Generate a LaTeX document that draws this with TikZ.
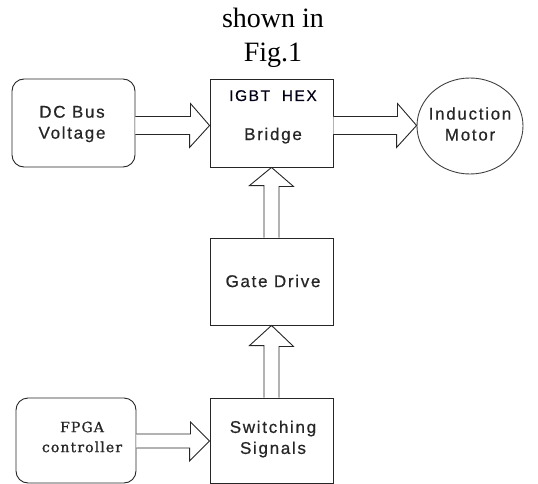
\documentclass[tikz,border=0pt]{standalone}
\usepackage{fontspec}
\setmainfont{Liberation Serif}
\newfontfamily\boxfont[LetterSpace=10, FakeBold=0.6]{Liberation Sans}
\newfontfamily\fpgafont[LetterSpace=8, FakeBold=1.2]{DejaVu Serif}
\usetikzlibrary{calc,shapes.geometric}
\begin{document}
\begin{tikzpicture}[x=1pt,y=-1pt,
  box/.style={draw=black!85, line width=0.9pt, minimum width=123pt, minimum height=88pt, inner sep=0pt},
  rbox/.style={box, rounded corners=12pt},
  lbl/.style={font=\boxfont\fontsize{17}{21}\selectfont, text=black!85, align=center, inner sep=0pt},
  barrow/.style={draw=black!85, line width=0.9pt, fill=white, line join=miter},
  title/.style={font=\fontsize{28}{34}\selectfont, anchor=base, inner sep=0pt}
]
\useasboundingbox (0,0) rectangle (538,484);
\node[title] (t1) at (273,28) {shown in};
\node[title] (t2) at (273,62) {Fig.1};

\node[rbox] (dc) at (73.5,123) {};
\node[lbl] (dct) at (72,124) {DC Bus\\Voltage};

\node[box] (igbt) at (271.5,123) {};
\node[font=\boxfont\fontsize{15.5}{18}\selectfont, text=black!90!blue, anchor=base, inner sep=0pt] (igbtt) at (273,101) {IGBT\ \ HEX};
\node[lbl, anchor=base] (igbtb) at (273,140) {Bridge};

\node[ellipse, draw=black!75, line width=0.9pt, minimum width=106pt, minimum height=96pt, inner sep=0pt] (motor) at (470,126) {};
\node[lbl] (motort) at (470,124) {Induction\\Motor};

\node[box, minimum height=87pt] (gate) at (271.5,281.5) {};
\node[lbl] (gatet) at (273,281) {Gate Drive};

\node[box, minimum height=85pt] (sw) at (271.5,440.5) {};
\node[lbl] (swt) at (273,439) {Switching\\Signals};

\node[rbox, minimum width=120pt, minimum height=85pt] (fpga) at (76,440.5) {};
\node[font=\fpgafont\fontsize{14}{20}\selectfont, text=black!85, align=center, inner sep=0pt] (fpgat) at (82,437) {FPGA\\controller};

% block arrows
\path[barrow] ($(dc.east)+(0,-6.5)$) -- ++(55,0) -- ++(0,-13) -- ($(igbt.west)+(0,2.5)$) -- ++(-20,22) -- ++(0,-13) -- ($(dc.east)+(0,11.5)$);
\path[barrow] ($(igbt.east)+(0,-6.5)$) -- ++(64,0) -- ++(0,-13) -- ($(motor.west)+(0,-0.5)$) -- ++(-20,22) -- ++(0,-13) -- ($(igbt.east)+(0,11.5)$);
\path[barrow] ($(gate.north)+(-7.5,0)$) -- ++(0,-52) -- ++(-14.5,0) -- (igbt.south) -- ++(22,19) -- ++(-14.5,0) -- ($(gate.north)+(7.5,0)$);
\path[barrow] ($(sw.north)+(-7.5,0)$) -- ++(0,-52) -- ++(-14.5,0) -- (gate.south) -- ++(22,21) -- ++(-14.5,0) -- ($(sw.north)+(7.5,0)$);
\path[barrow] ($(fpga.east)+(0,-6.5)$) -- ++(54,0) -- ++(0,-12) -- ($(sw.west)+(0,0.5)$) -- ++(-20,20) -- ++(0,-13) -- ($(fpga.east)+(0,7.5)$);
\end{tikzpicture}
\end{document}
